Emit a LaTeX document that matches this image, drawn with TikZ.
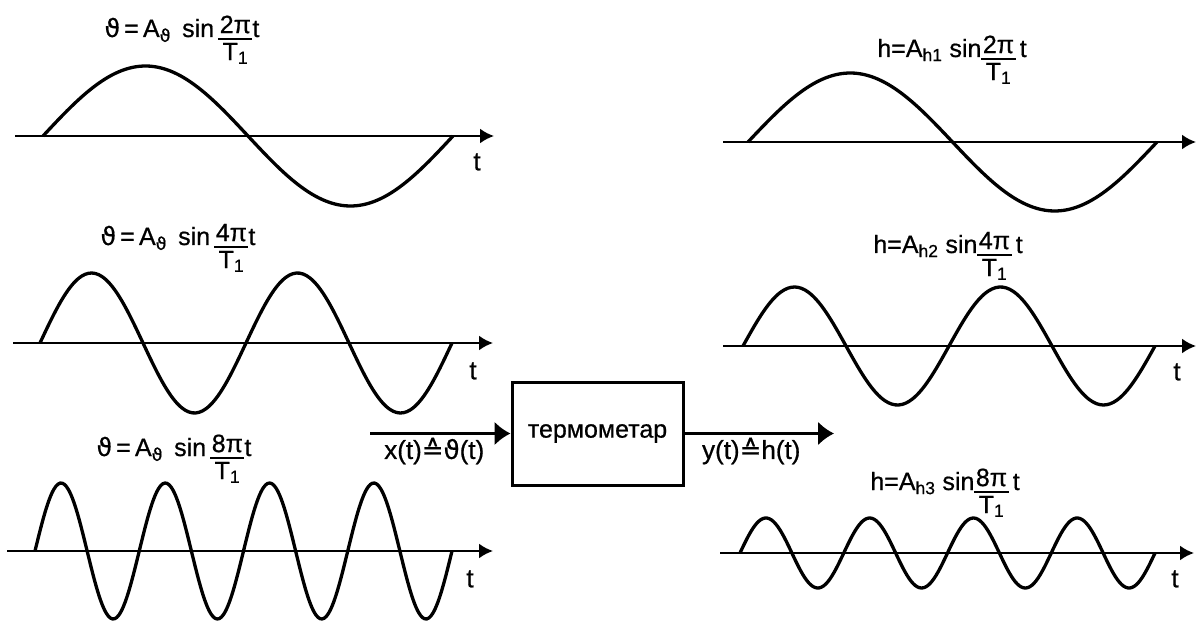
\documentclass[tikz,border=0pt]{standalone}
\usepackage{fontspec}
\setmainfont{Liberation Sans}[FakeBold=0.7]
\newfontfamily\symfont{DejaVu Sans}[FakeBold=0.7]
\usetikzlibrary{arrows.meta,positioning}

\newcommand{\corrto}{{\symfont ≙}}
\newcommand{\thg}{{\symfont ϑ}}
\newcommand{\frc}[1]{\raisebox{-10pt}{\setlength{\arrayrulewidth}{2pt}\setlength{\tabcolsep}{1.5pt}%
  \begin{tabular}{c}#1π\\[-4pt]\hline\rule{0pt}{17pt}T\textsubscript{1}\end{tabular}}}
\newcommand{\thsig}[1]{\thg\,=\,A\textsubscript{\thg}\;\,sin\,\frc{#1}t}
\newcommand{\hsig}[2]{h=A\textsubscript{h#1}\;sin\frc{#2}\,t}

\begin{document}
\begin{tikzpicture}[
    x=1pt, y=-1pt,
    axis/.style={line width=2.4pt, -{Latex[length=14pt,width=15pt]}},
    wave/.style={line width=3.3pt, smooth, samples=120},
    block/.style={draw, line width=3pt, minimum width=171pt, minimum height=103pt, font=\fontsize{25}{30}\selectfont},
    arrow/.style={line width=2.6pt, -{Latex[length=16pt,width=24pt]}},
    formula/.style={anchor=base, inner sep=0pt, font=\fontsize{25}{29}\selectfont},
    tlbl/.style={inner sep=0pt, font=\fontsize{26}{30}\selectfont},
    iolbl/.style={inner sep=3pt, font=\fontsize{26}{30}\selectfont}
  ]
    \useasboundingbox (0,0) rectangle (1197,628);

    % input signals
    \coordinate (axA0) at (15,136);  \coordinate (axA1) at (494,136);
    \coordinate (axB0) at (13,343);  \coordinate (axB1) at (493,343);
    \coordinate (axC0) at (7,551);   \coordinate (axC1) at (493,551);
    \draw[axis] (axA0) -- (axA1);
    \draw[axis] (axB0) -- (axB1);
    \draw[axis] (axC0) -- (axC1);
    \draw[wave] plot[domain=43:453] (\x,{136-70*sin((\x-43)/410*360)});
    \draw[wave] plot[domain=40:452] (\x,{343-70*sin((\x-40)/412*720)});
    \draw[wave] plot[domain=35:452, samples=200] (\x,{551-68*sin((\x-35)/417*1440)});
    \node[formula] (thA) at (182,37) {\thsig{2}};
    \node[formula] (thB) at (178,245) {\thsig{4}};
    \node[formula] (thC) at (174,456) {\thsig{8}};
    \node[tlbl] (tA) at (477,162) {t};
    \node[tlbl] (tB) at (473,371) {t};
    \node[tlbl] (tC) at (470,579) {t};

    % output signals
    \coordinate (axD0) at (723,142); \coordinate (axD1) at (1196,142);
    \coordinate (axE0) at (723,346); \coordinate (axE1) at (1196,346);
    \coordinate (axF0) at (720,553); \coordinate (axF1) at (1194,553);
    \draw[axis] (axD0) -- (axD1);
    \draw[axis] (axE0) -- (axE1);
    \draw[axis] (axF0) -- (axF1);
    \draw[wave] plot[domain=748:1157] (\x,{142-69*sin((\x-748)/409*360)});
    \draw[wave] plot[domain=743:1155] (\x,{346-59*sin((\x-743)/412*720)});
    \draw[wave] plot[domain=740:1155, samples=200] (\x,{553-35*sin((\x-740)/415*1440)});
    \node[formula] (hA) at (952,57) {\hsig{1}{2}};
    \node[formula] (hB) at (948,253) {\hsig{2}{4}};
    \node[formula] (hC) at (945,490) {\hsig{3}{8}};
    \node[tlbl] (tE) at (1177,372) {t};
    \node[tlbl] (tF) at (1175,579) {t};

    % thermometer block
    \node[block] (thermo) at (597.5,433.5) {термометар};
    \coordinate (xin) at (370,433.5);
    \coordinate (yout) at (834,433.5);
    \draw[arrow] (xin) -- node[iolbl, below, xshift=-6pt] (xlbl) {x(t)\corrto\thg(t)} (thermo.west);
    \draw[arrow] (thermo.east) -- node[iolbl, below, xshift=-8pt] (ylbl) {y(t)\corrto h(t)} (yout);
  \end{tikzpicture}
\end{document}
